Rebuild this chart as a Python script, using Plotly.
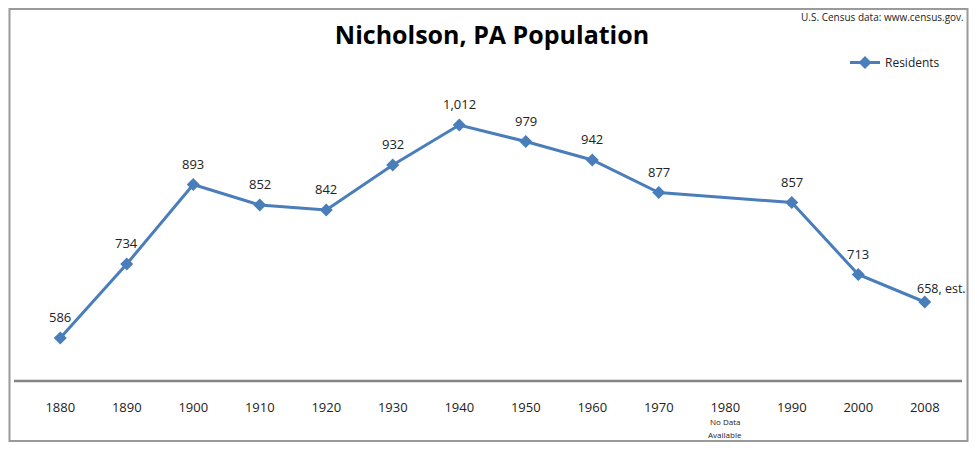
import plotly.graph_objects as go

years = ["1880", "1890", "1900", "1910", "1920", "1930", "1940", "1950",
         "1960", "1970", "1980", "1990", "2000", "2008"]
residents = [586, 734, 893, 852, 842, 932, 1012, 979, 942, 877, None, 857, 713, 658]
labels = ["586", "734", "893", "852", "842", "932", "1,012", "979", "942", "877",
          "", "857", "713", "658, est."]

# page has an 8px body margin; figure sized to fit inside the 977x450 window
OFF = 8
W, H = 977 - 2 * OFF, 450 - 2 * OFF
x0, x1 = 27, 958
ytop, ybot = 81, 381
FONT = "Open Sans, Liberation Sans, sans-serif"


def fx(px):
    return (px - OFF) / W


def fy(py):
    return (H + OFF - py) / H


idx = list(range(len(years)))

fig = go.Figure()
fig.add_trace(go.Scatter(
    x=idx, y=residents, mode="lines+markers", name="Residents",
    connectgaps=True,
    line=dict(color="#4A7EBB", width=3),
    marker=dict(symbol="diamond", size=10, color="#4A7EBB"),
    cliponaxis=False,
))

annotations = []
for i, (v, t) in enumerate(zip(residents, labels)):
    if v is None:
        continue
    last = i == len(residents) - 1
    annotations.append(dict(
        x=i, y=v, xref="x", yref="y", text=t, showarrow=False,
        xanchor="center", yanchor="middle",
        xshift=17 if last else 0, yshift=14 if last else 21,
        font=dict(size=12.5 if last else 13, color="#222222", family=FONT),
    ))

annotations += [
    dict(text="U.S. Census data: www.census.gov.", xref="paper", yref="paper",
         x=fx(966), y=fy(17), xanchor="right", yanchor="middle", showarrow=False,
         font=dict(size=10, color="#222222", family=FONT)),
    dict(text="No Data", xref="x", yref="paper",
         x=10, y=fy(421), xanchor="center", yanchor="middle", showarrow=False,
         font=dict(size=8, color="#222222", family=FONT)),
    dict(text="Available", xref="x", yref="paper",
         x=10, y=fy(434), xanchor="center", yanchor="middle", showarrow=False,
         font=dict(size=8, color="#222222", family=FONT)),
]

fig.update_layout(
    width=W, height=H,
    margin=dict(l=0, r=0, t=0, b=0),
    paper_bgcolor="#FBFBF9",
    plot_bgcolor="rgba(0,0,0,0)",
    font=dict(family=FONT, color="#222222"),
    showlegend=True,
    legend=dict(x=fx(845), y=fy(48), xanchor="left", yanchor="top",
                bgcolor="rgba(0,0,0,0)", font=dict(size=12, color="#222222")),
    title=dict(text="<b>Nicholson, PA Population</b>", x=fx(492), xanchor="center",
               y=fy(35), yanchor="middle",
               font=dict(size=25, color="#000000", family=FONT)),
    xaxis=dict(domain=[fx(x0), fx(x1)], range=[-0.5, 13.5],
               tickmode="array", tickvals=idx, ticktext=years,
               showgrid=False, zeroline=False, showline=False, ticks="",
               ticklabelstandoff=17,
               tickfont=dict(size=13, color="#222222")),
    yaxis=dict(domain=[fy(ybot), fy(ytop)], range=[500, 1100],
               showgrid=False, zeroline=False, showline=False,
               showticklabels=False, ticks=""),
    shapes=[
        dict(type="rect", xref="paper", yref="paper",
             x0=fx(9.5), x1=fx(967.5), y0=fy(441), y1=fy(9),
             line=dict(color="#9A9A9A", width=2), fillcolor="#FFFFFF", layer="below"),
        dict(type="line", xref="paper", yref="paper",
             x0=fx(14), x1=fx(962), y0=fy(381), y1=fy(381),
             line=dict(color="#858585", width=2.5)),
    ],
    annotations=annotations,
)

fig.write_html("out.html")
